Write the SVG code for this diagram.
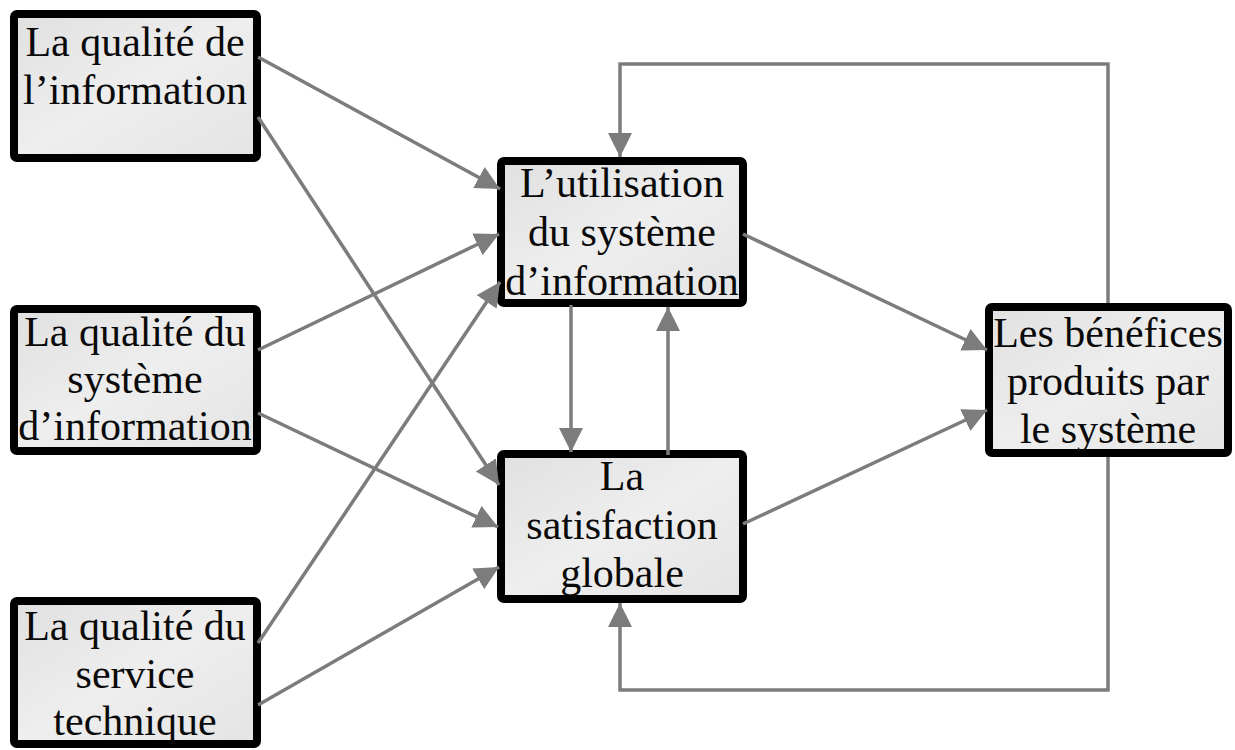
<svg xmlns="http://www.w3.org/2000/svg" width="1235" height="750" viewBox="0 0 1235 750">
  <defs>
    <linearGradient id="boxFill" x1="0" y1="0" x2="1" y2="1">
      <stop offset="0" stop-color="#e0e0e0"/>
      <stop offset="0.5" stop-color="#eeeeee"/>
      <stop offset="1" stop-color="#e4e4e4"/>
    </linearGradient>
    <marker id="arrow" markerUnits="userSpaceOnUse" markerWidth="26" markerHeight="26" refX="24" refY="12" orient="auto">
      <path d="M0,0 L24,12 L0,24 z" fill="#7c7c7c"/>
    </marker>
    <style>
      .box { fill: url(#boxFill); stroke: #000; stroke-width: 8; }
      .lbl { font-family: "Liberation Serif", "Times New Roman", serif; font-size: 42px; fill: #0a0a0a; text-anchor: middle; }
      .link { fill: none; stroke: #7c7c7c; stroke-width: 3.5; marker-end: url(#arrow); }
    </style>
  </defs>
  <rect width="1235" height="750" fill="#fff"/>

  <g id="node-qualite-information">
    <rect class="box" x="14" y="14" width="243" height="144" rx="3"/>
    <text class="lbl" x="135" y="56">La qualité de</text>
    <text class="lbl" x="135" y="104">l’information</text>
  </g>

  <g id="node-qualite-systeme">
    <rect class="box" x="14" y="309" width="243" height="142" rx="3"/>
    <text class="lbl" x="135" y="346">La qualité du</text>
    <text class="lbl" x="135" y="393">système</text>
    <text class="lbl" x="135" y="440">d’information</text>
  </g>

  <g id="node-qualite-service">
    <rect class="box" x="14" y="601" width="243" height="143" rx="3"/>
    <text class="lbl" x="135" y="640">La qualité du</text>
    <text class="lbl" x="135" y="688">service</text>
    <text class="lbl" x="135" y="735">technique</text>
  </g>

  <g id="node-utilisation">
    <rect class="box" x="501" y="161" width="242" height="142" rx="3"/>
    <text class="lbl" x="622" y="197">L’utilisation</text>
    <text class="lbl" x="622" y="246">du système</text>
    <text class="lbl" x="622" y="295">d’information</text>
  </g>

  <g id="node-satisfaction">
    <rect class="box" x="501" y="454" width="242" height="145" rx="3"/>
    <text class="lbl" x="622" y="490">La</text>
    <text class="lbl" x="622" y="539">satisfaction</text>
    <text class="lbl" x="622" y="587">globale</text>
  </g>

  <g id="node-benefices">
    <rect class="box" x="989" y="307" width="239" height="146" rx="3"/>
    <text class="lbl" x="1108" y="347">Les bénéfices</text>
    <text class="lbl" x="1108" y="395">produits par</text>
    <text class="lbl" x="1108" y="443">le système</text>
  </g>

  <g id="connectors">
    <line class="link" x1="258" y1="57" x2="500" y2="189"/>
    <line class="link" x1="258" y1="117" x2="499" y2="485"/>
    <line class="link" x1="258" y1="350" x2="499" y2="234"/>
    <line class="link" x1="258" y1="413" x2="498" y2="527"/>
    <line class="link" x1="258" y1="643" x2="500" y2="282"/>
    <line class="link" x1="258" y1="705" x2="499" y2="567"/>
    <line class="link" x1="743" y1="234" x2="987" y2="350"/>
    <line class="link" x1="743" y1="524" x2="987" y2="410"/>
    <line class="link" x1="571" y1="305" x2="571" y2="452"/>
    <line class="link" x1="668" y1="455" x2="668" y2="307"/>
    <polyline class="link" points="1108,303 1108,64 620,64 620,157"/>
    <polyline class="link" points="1108,457 1108,690 620,690 620,603"/>
  </g>
</svg>
